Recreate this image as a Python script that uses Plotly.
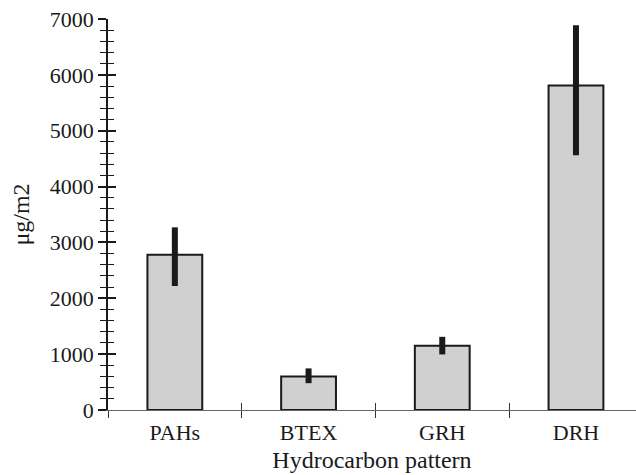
import plotly.graph_objects as go

categories = ["PAHs", "BTEX", "GRH", "DRH"]
values = [2780, 600, 1150, 5810]
err_plus = [490, 145, 160, 1080]
err_minus = [560, 120, 155, 1250]
y_ticks = [0, 1000, 2000, 3000, 4000, 5000, 6000, 7000]

FONT = "Liberation Serif"
INK = "#1a1a1a"

fig = go.Figure()
fig.add_trace(go.Bar(
    x=categories, y=values, width=0.41,
    marker=dict(color="#d0d0d0", line=dict(color=INK, width=2)),
    error_y=dict(type="data", symmetric=False, array=err_plus, arrayminus=err_minus,
                 color=INK, thickness=6, width=0),
    showlegend=False, hoverinfo="skip",
))
# helper trace so the overlay axes (inside ticks) are drawn
fig.add_trace(go.Scatter(
    x=categories, y=values, xaxis="x2", yaxis="y2", mode="markers",
    marker=dict(opacity=0), showlegend=False, hoverinfo="skip",
))

xr = [-0.5, 3.449]
yr = [0, 7000]
fig.update_layout(
    width=636, height=475,
    margin=dict(l=108, r=0, t=19, b=65),
    paper_bgcolor="white", plot_bgcolor="white",
    font=dict(family=FONT, color=INK, size=22),
    xaxis=dict(
        type="category", categoryorder="array", categoryarray=categories,
        range=xr, tickson="boundaries", ticks="outside", ticklen=7, tickwidth=1,
        tickcolor="#333", showline=True, linecolor="#666", linewidth=1,
        showgrid=False, zeroline=False, tickfont=dict(size=22, family=FONT),
        ticklabelstandoff=3,
        title=dict(text="Hydrocarbon pattern", font=dict(size=24, family=FONT), standoff=6),
    ),
    xaxis2=dict(
        type="category", categoryorder="array", categoryarray=categories,
        overlaying="x", anchor="y", range=xr, tickson="boundaries", ticks="inside",
        ticklen=7, tickwidth=1, tickcolor="#333", showticklabels=False,
        showline=False, showgrid=False, zeroline=False,
    ),
    yaxis=dict(
        range=yr, tickvals=y_ticks, ticks="outside", ticklen=8, tickwidth=1.5,
        tickcolor=INK, showline=True, linecolor=INK, linewidth=1.5,
        showgrid=False, zeroline=False, tickfont=dict(size=22, family=FONT),
        minor=dict(dtick=200, ticks="outside", ticklen=6, tickwidth=1.2, tickcolor=INK),
        title=dict(text="μg/m2", font=dict(size=24, family=FONT), standoff=13),
    ),
    yaxis2=dict(
        range=yr, tickvals=y_ticks, overlaying="y", anchor="x", side="left",
        ticks="inside", ticklen=8, tickwidth=1.5, tickcolor=INK,
        showticklabels=False, showline=False, showgrid=False, zeroline=False,
        minor=dict(dtick=200, ticks="inside", ticklen=6, tickwidth=1.2, tickcolor=INK),
    ),
)
fig.write_html("out.html")
